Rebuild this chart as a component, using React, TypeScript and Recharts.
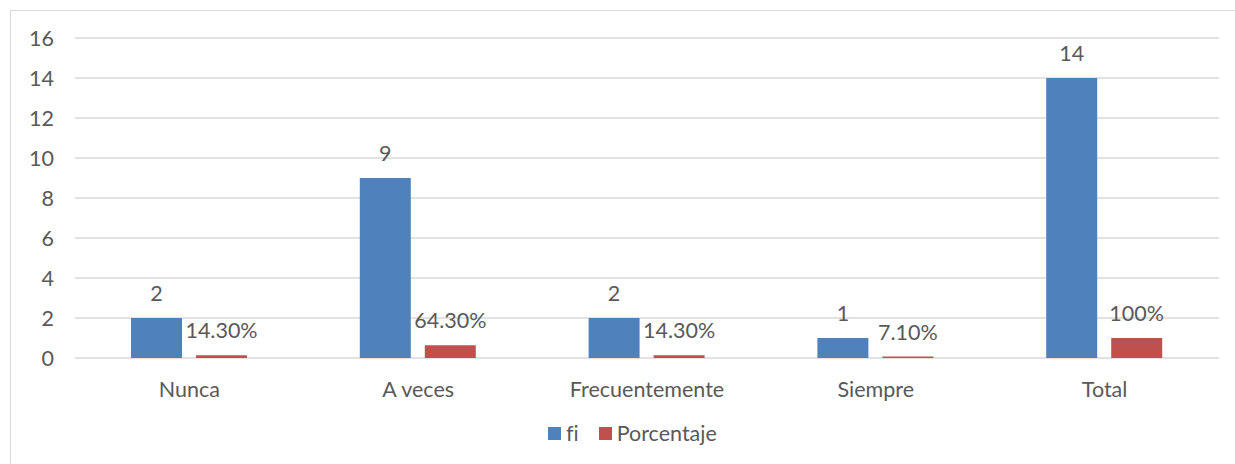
import { BarChart, Bar, XAxis, YAxis, CartesianGrid, LabelList } from 'recharts';

const categories = ['Nunca', 'A veces', 'Frecuentemente', 'Siempre', 'Total'];
const fiValues = [2, 9, 2, 1, 14];
const porcentajeValues = [0.143, 0.643, 0.143, 0.071, 1];
const porcentajeLabels = ['14.30%', '64.30%', '14.30%', '7.10%', '100%'];
const yTicks = [0, 2, 4, 6, 8, 10, 12, 14, 16];

const data = categories.map((name, i) => ({
  name,
  fi: fiValues[i],
  porcentaje: porcentajeValues[i],
  pctLabel: porcentajeLabels[i],
}));

const textColor = '#595959';
const gridColor = '#d9d9d9';
const blue = '#4f81bd';
const red = '#c0504d';
const font = 'Lato, "Open Sans", sans-serif';
const fontSize = 21.5;

function LegendBox() {
  const items = [
    { label: 'fi', color: blue },
    { label: 'Porcentaje', color: red },
  ];
  return (
    <div
      style={{
        position: 'absolute',
        left: 548,
        top: 421,
        display: 'flex',
        gap: 20,
        fontFamily: font,
        fontSize,
        color: textColor,
        fontVariantLigatures: 'none',
        lineHeight: '24px',
      }}
    >
      {items.map((it) => (
        <div key={it.label} style={{ display: 'flex', alignItems: 'center', gap: 5 }}>
          <span style={{ display: 'inline-block', width: 13, height: 13, background: it.color }} />
          <span>{it.label}</span>
        </div>
      ))}
    </div>
  );
}

export default function App() {
  return (
    <div style={{ position: 'absolute', left: 0, top: 0, width: 1235, height: 464, background: '#fff', overflow: 'hidden' }}>
      <div
        style={{
          position: 'absolute',
          left: 10,
          top: 10,
          width: 1260,
          height: 500,
          border: `1px solid ${gridColor}`,
          boxSizing: 'border-box',
        }}
      />
      <div style={{ position: 'absolute', left: 0, top: 0 }}>
        <BarChart
          width={1235}
          height={464}
          data={data}
          margin={{ top: 38, right: 16, left: 0, bottom: 46 }}
          barGap={14}
          barSize={51}
        >
          <CartesianGrid stroke={gridColor} strokeWidth={1.5} vertical={false} />
          <XAxis
            dataKey="name"
            height={60}
            tickLine={false}
            axisLine={false}
            tickSize={0}
            tickMargin={24}
            tick={{ fill: textColor, fontSize, fontFamily: font }}
            interval={0}
          />
          <YAxis
            width={75}
            domain={[0, 16]}
            ticks={yTicks}
            tickLine={false}
            axisLine={false}
            tickSize={0}
            tickMargin={21}
            tick={{ fill: textColor, fontSize, fontFamily: font }}
          />
          <Bar dataKey="fi" name="fi" fill={blue} isAnimationActive={false}>
            <LabelList dataKey="fi" position="top" offset={17} fill={textColor} fontSize={fontSize} fontFamily={font} />
          </Bar>
          <Bar dataKey="porcentaje" name="Porcentaje" fill={red} isAnimationActive={false}>
            <LabelList dataKey="pctLabel" position="top" offset={17} fill={textColor} fontSize={fontSize} fontFamily={font} />
          </Bar>
        </BarChart>
      </div>
      <LegendBox />
    </div>
  );
}
